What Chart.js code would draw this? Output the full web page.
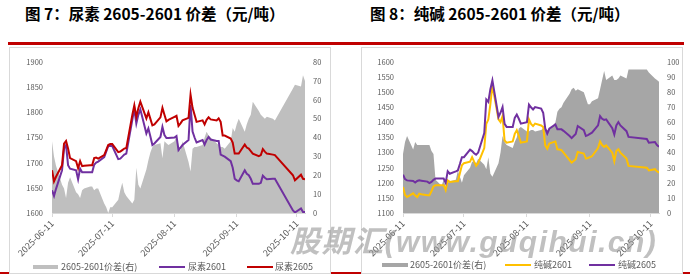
<!DOCTYPE html>
<html>
<head>
<meta charset="utf-8">
<script src="https://cdn.jsdelivr.net/npm/chart.js@4.4.1/dist/chart.umd.min.js"></script>
<style>
  body { margin:0; width:690px; height:275px; background:#fff; position:relative; overflow:hidden; font-family:"Noto Sans CJK SC", sans-serif; }
  .title { position:absolute; top:5px; font-size:15.5px; line-height:16px; font-weight:bold; color:#000; white-space:nowrap; }
  .rule { position:absolute; background:#c00000; }
  .panel { position:absolute; top:47px; width:320px; height:225px; border:1px solid #d9d9d9; background:#fff; }
  canvas { position:absolute; }
  .lg { position:absolute; font-size:9px; line-height:10px; color:#595959; white-space:nowrap; }
  .sw { position:absolute; }
  .mark { position:absolute; left:290px; top:227px; font-family:"Liberation Sans","Noto Sans CJK SC",sans-serif; font-style:italic; font-weight:bold; font-size:30px; line-height:30px; letter-spacing:1.5px; color:rgba(150,150,150,0.6); white-space:nowrap; }
</style>
</head>
<body>
<div class="rule" style="left:8px;top:42px;width:676px;height:3px"></div>
<div class="rule" style="left:0;top:272px;width:690px;height:2px"></div>
<div class="title" style="left:25px">图 7：尿素 2605-2601 价差（元/吨）</div>
<div class="title" style="left:370px">图 8：纯碱 2605-2601 价差（元/吨）</div>
<div class="panel" style="left:9px"></div>
<div class="panel" style="left:361px"></div>
<canvas id="ureaChart" width="320" height="210" style="left:10px;top:48px"></canvas>
<canvas id="sodaChart" width="320" height="210" style="left:362px;top:48px"></canvas>

<div class="sw" style="left:33px;top:265px;width:25px;height:4px;background:#bfbfbf"></div>
<div class="lg" style="left:61px;top:262px">2605-2601价差(右)</div>
<div class="sw" style="left:159px;top:266px;width:26px;height:2px;background:#7030a0"></div>
<div class="lg" style="left:188px;top:262px">尿素2601</div>
<div class="sw" style="left:247px;top:266px;width:26px;height:2px;background:#c00000"></div>
<div class="lg" style="left:275px;top:262px">尿素2605</div>

<div class="sw" style="left:382px;top:263px;width:26px;height:4px;background:#a6a6a6"></div>
<div class="lg" style="left:410px;top:260px">2605-2601价差(右)</div>
<div class="sw" style="left:505px;top:264px;width:26px;height:2px;background:#ffc000"></div>
<div class="lg" style="left:534px;top:260px">纯碱2601</div>
<div class="sw" style="left:589px;top:264px;width:26px;height:2px;background:#7030a0"></div>
<div class="lg" style="left:618px;top:260px">纯碱2605</div>

<div class="mark">股期汇(www.guqihui.cn)</div>

<script>
// trading days, 2025
var tradeDates = ['06-11','06-12','06-13','06-16','06-17','06-18','06-19','06-20',
    '06-23','06-24','06-25','06-26','06-27','06-30','07-01','07-02','07-03','07-04',
    '07-07','07-08','07-09','07-10','07-11','07-14','07-15','07-16','07-17','07-18',
    '07-21','07-22','07-23','07-24','07-25','07-28','07-29','07-30','07-31','08-01',
    '08-04','08-05','08-06','08-07','08-08','08-11','08-12','08-13','08-14','08-15',
    '08-18','08-19','08-20','08-21','08-22','08-25','08-26','08-27','08-28','08-29',
    '09-01','09-02','09-03','09-04','09-05','09-08','09-09','09-10','09-11','09-12',
    '09-15','09-16','09-17','09-18','09-19','09-22','09-23','09-24','09-25','09-26',
    '09-29','09-30','10-09','10-10','10-13','10-14','10-15'];
var xTickLabels = ['2025-06-11','2025-07-11','2025-08-11','2025-09-11','2025-10-11'];

// 尿素
var urea2605 = [1685,1663,1672,1695,1738,1743,1728,1709,
    1703,1689,1703,1693,1694,1695,1695,1709,1710,1708,
    1715,1725,1735,1737,1737,1721,1722,1725,1728,1729,
    1795,1814,1791,1808,1821,1788,1800,1787,1774,1776,
    1790,1809,1795,1782,1785,1791,1793,1773,1778,1784,
    1789,1835,1809,1795,1781,1784,1776,1785,1790,1786,
    1784,1788,1781,1754,1754,1748,1740,1718,1718,1718,
    1736,1730,1728,1723,1718,1713,1715,1727,1722,1718,
    1716,1715,1675,1665,1676,1668,1667];
var urea2601 = [1645,1634,1648,1685,1728,1735,1695,1688,
    1685,1667,1688,1681,1681,1681,1681,1696,1700,1702,
    1711,1722,1733,1733,1733,1707,1708,1712,1716,1718,
    1785,1807,1778,1795,1806,1758,1768,1752,1735,1738,
    1751,1771,1755,1749,1749,1750,1753,1725,1730,1735,
    1745,1815,1762,1750,1740,1745,1736,1745,1751,1746,
    1743,1743,1716,1714,1712,1703,1690,1668,1665,1663,
    1685,1678,1675,1668,1658,1658,1660,1674,1670,1667,
    1668,1668,1605,1601,1609,1602,1602];
var ureaSpread = [38,30,25,15,13,8,16,19,
    11,10,8,12,13,14,14,12,13,13,
    5,3,0,3,3,7,12,16,11,9,
    5,7,24,15,13,23,28,32,35,36,
    37,29,38,37,36,38,41,36,33,38,
    27,22,34,35,35,36,40,43,41,40,
    37,36,35,35,34,38,45,43,47,50,
    43,47,50,52,59,54,52,51,50,51,
    50,49,66,68,67,73,70];

// 纯碱
var soda2605 = [1227,1212,1208,1206,1201,1206,1208,1207,
    1204,1199,1203,1210,1214,1214,1214,1200,1238,1230,
    1238,1241,1262,1285,1285,1310,1305,1298,1293,1300,
    1365,1476,1468,1510,1539,1418,1432,1451,1395,1385,
    1385,1415,1426,1412,1396,1401,1459,1450,1443,1451,
    1446,1432,1380,1363,1379,1393,1377,1377,1377,1372,
    1355,1348,1355,1362,1388,1374,1355,1358,1362,1366,
    1390,1421,1412,1408,1410,1381,1360,1390,1401,1390,
    1371,1352,1345,1333,1335,1325,1319];
var soda2601 = [1186,1160,1153,1165,1158,1153,1164,1162,
    1159,1159,1172,1188,1192,1192,1192,1176,1208,1203,
    1205,1205,1232,1258,1265,1270,1285,1270,1256,1265,
    1315,1395,1410,1460,1523,1410,1401,1421,1340,1333,
    1337,1362,1374,1355,1333,1337,1410,1395,1388,1396,
    1390,1385,1324,1313,1330,1337,1311,1310,1308,1300,
    1275,1267,1272,1278,1302,1297,1280,1282,1285,1288,
    1315,1337,1325,1319,1324,1300,1271,1305,1311,1300,
    1280,1256,1250,1241,1245,1238,1234];
var sodaSpread = [39,47,51,42,47,45,45,45,
    45,45,41,39,22,18,22,17,20,21,
    22,28,24,20,25,30,34,34,33,36,
    32,29,37,26,24,33,40,51,47,45,
    43,47,50,56,57,54,54,55,55,54,
    55,56,56,55,55,60,67,69,70,73,
    79,82,83,81,82,80,76,72,72,74,
    76,82,88,94,88,91,88,88,89,91,
    89,95,95,93,89,88,87];

var FONT = '"Noto Sans CJK SC", sans-serif';
var base = Date.UTC(2025, 5, 11);
function dayOf(s) {
    var p = s.split('-').map(Number);
    return (Date.UTC(p[0], p[1] - 1, p[2]) - base) / 86400000;
}
var days = tradeDates.map(function (d) { return dayOf('2025-' + d); });
var tickDays = xTickLabels.map(dayOf);
function pts(arr) { return arr.map(function (v, i) { return { x: days[i], y: v }; }); }
function plain(v) { return String(v); }

function scales(yMin, yMax, y1Max, leftW, rightW) {
    var tickFont = { family: FONT, size: 7.5 };
    return {
        x: {
            type: 'linear', min: 0, max: days[days.length - 1],
            afterBuildTicks: function (s) { s.ticks = tickDays.map(function (v) { return { value: v }; }); },
            afterFit: function (s) { s.height = 45; },
            grid: { drawOnChartArea: false, drawTicks: true, tickLength: 4, color: '#d9d9d9' },
            border: { color: '#d9d9d9' },
            ticks: { minRotation: 45, maxRotation: 45, padding: 1, color: '#595959', font: { family: FONT, size: 9 },
                     callback: function (v, i) { return xTickLabels[i]; } }
        },
        y: {
            position: 'left', min: yMin, max: yMax,
            afterFit: function (s) { s.width = leftW; },
            grid: { display: false, drawTicks: false },
            border: { display: false },
            ticks: { stepSize: 50, padding: 9, color: '#595959', font: tickFont, callback: plain }
        },
        y1: {
            position: 'right', min: 0, max: y1Max,
            afterFit: function (s) { s.width = rightW; },
            grid: { display: false, drawTicks: false },
            border: { display: false },
            ticks: { stepSize: 10, padding: 8, color: '#595959', font: tickFont, callback: plain }
        }
    };
}

var common = {
    responsive: false,
    animation: false,
    layout: { padding: { top: 14 } },
    elements: { point: { radius: 0 }, line: { tension: 0 } },
    plugins: { legend: { display: false }, tooltip: { enabled: false } }
};

new Chart(document.getElementById('ureaChart'), {
    type: 'line',
    data: {
        datasets: [
            { label: '2605-2601价差(右)', data: pts(ureaSpread), yAxisID: 'y1', fill: 'origin',
              backgroundColor: '#bfbfbf', borderColor: 'rgba(0,0,0,0)', borderWidth: 0, order: 3 },
            { label: '尿素2601', data: pts(urea2601), yAxisID: 'y', borderColor: '#7030a0', borderWidth: 2, order: 1 },
            { label: '尿素2605', data: pts(urea2605), yAxisID: 'y', borderColor: '#c00000', borderWidth: 2, order: 0 }
        ]
    },
    options: Object.assign({}, common, { scales: scales(1600, 1900, 80, 42, 25) })
});

new Chart(document.getElementById('sodaChart'), {
    type: 'line',
    data: {
        datasets: [
            { label: '2605-2601价差(右)', data: pts(sodaSpread), yAxisID: 'y1', fill: 'origin',
              backgroundColor: '#a6a6a6', borderColor: 'rgba(0,0,0,0)', borderWidth: 0, order: 3 },
            { label: '纯碱2601', data: pts(soda2601), yAxisID: 'y', borderColor: '#ffc000', borderWidth: 2, order: 1 },
            { label: '纯碱2605', data: pts(soda2605), yAxisID: 'y', borderColor: '#7030a0', borderWidth: 2, order: 0 }
        ]
    },
    options: Object.assign({}, common, { scales: scales(1100, 1600, 100, 41, 23) })
});
</script>
</body>
</html>
